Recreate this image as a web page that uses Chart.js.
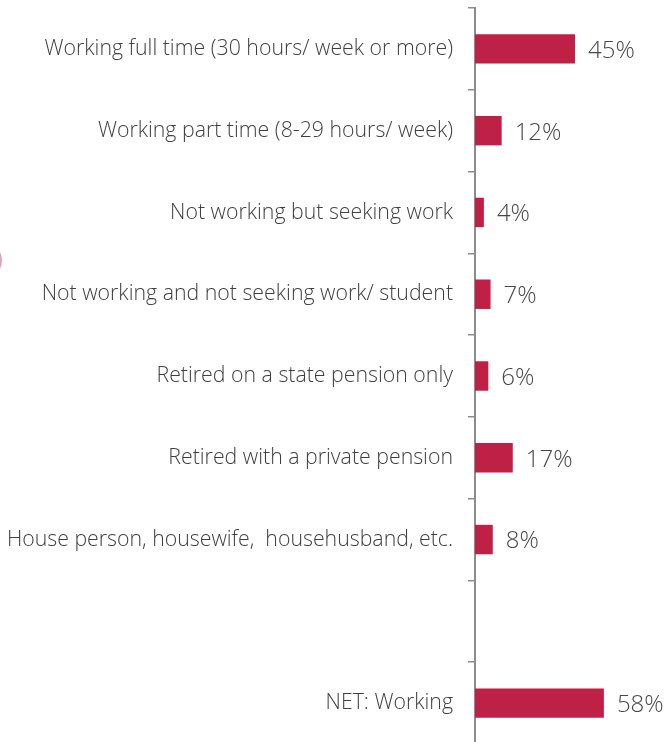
<!DOCTYPE html>
<html>
<head>
<meta charset="utf-8">
<script src="https://cdn.jsdelivr.net/npm/chart.js@4"></script>
<style>
  html, body { margin: 0; padding: 0; background: #fff; overflow: hidden; }
  #wrap { position: relative; width: 667px; height: 744px; }
  #blob { position: absolute; left: -22px; top: 245px; width: 24px; height: 31px;
          border-radius: 50%; background: #e4a2b8; }
</style>
</head>
<body>
<div id="wrap">
  <div id="blob"></div>
  <canvas id="c"></canvas>
</div>
<script>
// Employment status categories (blank slot separates the NET row)
const categories = [
  'Working full time (30 hours/ week or more)',
  'Working part time (8-29 hours/ week)',
  'Not working but seeking work',
  'Not working and not seeking work/ student',
  'Retired on a state pension only',
  'Retired with a private pension',
  'House person, housewife,  househusband, etc.',
  '',
  'NET: Working'
];
const shares = [45, 12, 4, 7, 6, 17, 8, null, 58];

const BAR = '#BF2146';
const TEXT = '#3F3F3F';
const AXIS = '#8C8C8C';

// Prints each bar's percentage just beyond its end
const valueLabels = {
  id: 'valueLabels',
  afterDatasetsDraw(chart) {
    const ctx = chart.ctx;
    const meta = chart.getDatasetMeta(0);
    ctx.save();
    ctx.font = '300 24px "Open Sans", sans-serif';
    ctx.fillStyle = '#474747';
    ctx.textAlign = 'left';
    ctx.textBaseline = 'middle';
    meta.data.forEach((bar, i) => {
      const v = shares[i];
      if (v === null || v === undefined) return;
      ctx.fillText(v + '%', bar.x + 13, bar.y + 2);
    });
    ctx.restore();
  }
};

new Chart(document.getElementById('c'), {
  type: 'bar',
  data: {
    labels: categories,
    datasets: [{
      data: shares,
      backgroundColor: BAR,
      borderWidth: 0,
      categoryPercentage: 1,
      barPercentage: 0.36
    }]
  },
  options: {
    indexAxis: 'y',
    responsive: true,
    maintainAspectRatio: false,
    animation: false,
    layout: { padding: { top: 8, right: 0, bottom: 0, left: 0 } },
    plugins: { legend: { display: false }, tooltip: { enabled: false } },
    scales: {
      x: { display: false, min: 0, max: 86.4 },
      y: {
        afterFit(scale) {
          scale.width = 475;
          scale.paddingTop = 0;
          scale.paddingBottom = 0;
        },
        grid: {
          offset: true,
          drawOnChartArea: false,
          drawTicks: true,
          tickLength: 7,
          tickColor: AXIS,
          lineWidth: 1.5
        },
        border: { display: true, color: AXIS, width: 2 },
        ticks: {
          padding: 15,
          color: TEXT,
          font: { family: '"Open Sans", sans-serif', size: 21.3, weight: '300' }
        }
      }
    }
  },
  plugins: [valueLabels]
});
</script>
</body>
</html>
